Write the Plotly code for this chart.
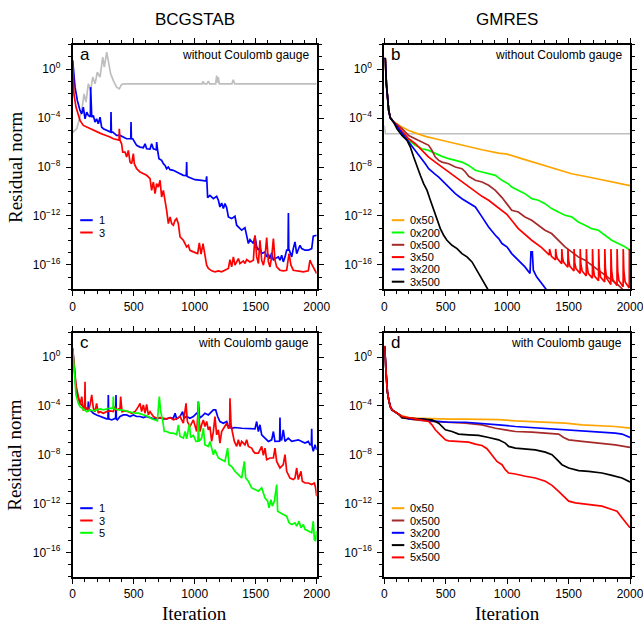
import numpy as np
import plotly.graph_objects as go

# ---------------- data (log10 of residual norm vs iteration) ----------------
# Panel a: BCGSTAB, without Coulomb gauge
a_gray_it = [0, 5, 33, 74, 93, 109, 128, 147, 164, 183, 202, 224, 246, 259, 279, 295, 311, 333, 360, 382, 401, 420,
             1060, 1069, 1078, 1100, 1112, 1122, 1172, 1180, 1187, 1193, 1202, 1305, 1316, 1328, 2000]
a_gray_lg = [-5.0, -5.14, -4.87, -3.38, -2.02, -2.70, -1.20, -1.75, -0.65, -1.20, -0.25, -0.65, 0.98, 0.16, 1.39, 0.43,
             -0.38, -0.93, -1.47, -1.61, -1.25, -1.20,
             -1.20, -1.0, -1.20, -1.20, -0.98, -1.20, -1.20, -0.52, -1.1, -0.65, -1.20, -1.20, -0.87, -1.20, -1.20]

a_blue_it = [0, 19, 38, 60, 74, 87, 101, 115, 128, 145, 147, 150, 156, 169, 183, 196, 210, 224, 237, 251, 278, 306, 312,
             314, 317, 328, 360, 388, 415, 442, 470, 476, 478, 481, 492, 511, 524, 552, 579, 593, 606, 634, 647, 661,
             675, 686, 688, 691, 696, 707, 729, 743, 757, 770, 784, 798, 825, 852, 880, 907, 931, 934, 937, 948, 975,
             1002, 1057, 1093, 1098, 1106, 1125, 1153, 1180, 1194, 1207, 1221, 1235, 1248, 1262, 1276, 1303, 1330,
             1344, 1358, 1385, 1412, 1426, 1440, 1453, 1467, 1481, 1494, 1508, 1522, 1535, 1549, 1576, 1590, 1604,
             1617, 1631, 1645, 1658, 1686, 1699, 1713, 1726, 1740, 1754, 1765, 1768, 1771, 1776, 1795, 1808, 1822,
             1836, 1849, 1863, 1877, 1904, 1931, 1959, 1972, 2000]
a_blue_lg = [0.70, -1.47, -2.56, -3.38, -3.65, -3.10, -4.06, -3.51, -3.78, -3.9, -1.47, -3.9, -3.92, -3.79, -4.33,
             -4.06, -4.47, -3.92, -4.74, -4.87, -5.01, -5.15, -5.15, -3.51, -5.15, -5.15, -5.42, -5.42, -5.55, -5.69,
             -5.69, -5.7, -4.33, -5.69, -5.69, -5.96, -6.23, -6.37, -6.42, -6.10, -6.51, -6.53, -6.10, -6.51, -6.59,
             -6.6, -5.96, -6.6, -6.64, -7.32, -7.46, -7.73, -7.87, -8.14, -8.00, -8.22, -8.27, -8.41, -8.55, -8.68,
             -8.7, -7.60, -8.75, -8.82, -8.96, -9.04, -9.09, -9.15, -8.76, -10.51, -10.32, -10.59, -10.40, -10.72,
             -11.27, -10.94, -11.40, -10.99, -11.32, -12.08, -12.22, -12.03, -12.76, -12.90, -13.17, -12.96, -13.72,
             -14.26, -13.93, -14.12, -14.26, -13.66, -14.53, -14.80, -14.59, -15.08, -14.94, -15.35, -15.13, -15.49,
             -15.02, -15.62, -15.49, -15.35, -15.62, -15.21, -15.76, -15.35, -14.80, -14.8, -11.76, -14.8, -14.80,
             -15.35, -14.67, -14.12, -15.08, -14.75, -14.40, -14.67, -14.80, -14.80, -14.67, -13.66, -13.58]

a_red_it = [0, 10, 27, 46, 60, 87, 115, 142, 169, 196, 224, 251, 278, 306, 333, 360, 380, 382, 385, 388, 401, 410, 429,
            442, 456, 470, 483, 497, 505, 524, 552, 579, 606, 634, 647, 661, 675, 688, 702, 716, 729, 743, 757, 770,
            784, 798, 811, 825, 839, 852, 866, 880, 907, 921, 934, 948, 961, 989, 1016, 1024, 1038, 1052, 1068, 1084,
            1098, 1112, 1139, 1166, 1194, 1221, 1248, 1276, 1289, 1303, 1317, 1330, 1358, 1371, 1399, 1412, 1426,
            1453, 1481, 1494, 1508, 1522, 1535, 1549, 1563, 1576, 1590, 1604, 1617, 1631, 1645, 1658, 1672, 1699,
            1726, 1754, 1773, 1789, 1808, 1849, 1890, 1931, 1945, 1959, 1981, 2000]
a_red_lg = [0.70, -2.02, -3.10, -3.78, -4.19, -4.60, -4.74, -4.87, -5.01, -5.15, -5.23, -5.34, -5.42, -5.55, -5.69,
            -5.77, -5.8, -4.87, -5.8, -5.83, -6.10, -6.78, -6.78, -7.19, -6.64, -7.60, -7.73, -6.91, -7.73, -8.14,
            -8.41, -8.55, -8.68, -8.96, -9.91, -9.23, -10.18, -9.36, -9.64, -9.09, -10.45, -9.91, -11.00, -11.54,
            -12.63, -12.08, -12.63, -12.76, -12.36, -12.22, -12.63, -13.72, -13.99, -14.26, -14.53, -14.40, -14.81,
            -14.94, -15.02, -15.08, -14.21, -15.13, -14.26, -15.35, -16.03, -16.30, -16.49, -16.57, -16.49, -16.57,
            -16.44, -16.30, -15.57, -16.17, -15.35, -16.03, -15.49, -15.89, -15.68, -15.89, -15.57, -15.76, -15.62,
            -13.58, -15.35, -15.89, -13.99, -15.62, -16.03, -15.35, -13.77, -15.76, -16.17, -15.35, -13.85, -15.62,
            -16.17, -16.44, -16.49, -16.44, -15.08, -16.03, -16.44, -16.52, -16.57, -16.49, -15.62, -15.95, -16.39,
            -16.71]

# Panel b: GMRES, without Coulomb gauge
b_gray_it = [0, 8, 2000]
b_gray_lg = [-4.6, -5.28, -5.28]

b_orange_it = [0, 8, 17, 27, 36, 49, 76, 103, 144, 198, 253, 334, 415, 524, 660, 795, 931, 1000, 1118, 1254, 1389,
               1525, 1661, 1796, 1900, 2000]
b_orange_lg = [0.9, 0.84, -1.20, -2.56, -3.38, -3.98, -4.33, -4.47, -4.74, -5.01, -5.23, -5.50, -5.69, -5.96, -6.29,
               -6.59, -6.86, -6.95, -7.32, -7.73, -8.14, -8.55, -8.82, -9.09, -9.3, -9.53]

b_green_it = [0, 8, 17, 27, 36, 49, 76, 103, 144, 198, 253, 307, 361, 415, 470, 524, 578, 632, 687, 741, 795, 849,
              904, 958, 1012, 1037, 1091, 1145, 1200, 1254, 1308, 1362, 1417, 1471, 1525, 1579, 1634, 1688, 1742,
              1796, 1851, 1905, 1959, 2000]
b_green_lg = [0.9, 0.84, -1.20, -2.56, -3.38, -3.98, -4.33, -4.60, -5.15, -5.83, -6.23, -6.51, -6.64, -6.91, -7.13,
              -7.32, -7.46, -7.60, -7.87, -8.27, -8.41, -8.55, -8.68, -9.09, -9.40, -9.64, -9.91, -10.18, -10.59,
              -10.72, -11.00, -11.40, -11.68, -11.95, -12.08, -12.49, -12.76, -13.04, -13.17, -13.58, -13.99, -14.26,
              -14.53, -14.81]

b_brown_it = [0, 8, 17, 27, 36, 49, 76, 103, 144, 198, 253, 307, 361, 388, 415, 443, 470, 524, 578, 632, 660, 687,
              741, 795, 849, 904, 958, 1012, 1037, 1091, 1145, 1200, 1254, 1308, 1362, 1417, 1471, 1525, 1579, 1634,
              1688, 1742, 1796, 1851, 1905, 1950]
b_brown_lg = [0.9, 0.84, -1.20, -2.56, -3.38, -3.98, -4.33, -4.52, -4.87, -5.42, -5.69, -5.96, -6.23, -6.64, -7.19,
              -7.46, -7.60, -7.73, -8.00, -8.14, -8.41, -8.76, -9.09, -9.23, -9.50, -9.91, -10.5, -11.2, -11.54,
              -11.68, -12.08, -12.36, -12.76, -13.17, -13.44, -13.99, -14.53, -14.94, -15.35, -15.62, -16.03, -16.44,
              -16.85, -17.25, -17.66, -18.1]

b_red_it = [0, 8, 17, 27, 36, 49, 76, 103, 144, 198, 253, 307, 361, 415, 470, 524, 578, 632, 687, 741, 795, 849, 904,
            958, 1000, 1091, 1200, 1281, 1344,
            1345, 1350, 1360, 1394, 1395, 1400, 1410, 1444, 1445, 1450, 1460, 1494, 1495, 1500, 1510, 1544,
            1545, 1550, 1560, 1594, 1595, 1600, 1610, 1644, 1645, 1650, 1660, 1694, 1695, 1700, 1710, 1744,
            1745, 1750, 1760, 1794, 1795, 1800, 1810, 1844, 1845, 1850, 1860, 1894, 1895, 1900, 1910, 1944,
            1945, 1950, 1960, 1994, 1995, 2000]
b_red_lg = [0.9, 0.84, -1.20, -2.56, -3.38, -3.98, -4.33, -4.60, -5.06, -5.69, -6.10, -6.64, -7.19, -7.60, -8.00,
            -8.41, -8.82, -9.23, -9.64, -10.04, -10.40, -10.72, -11.13, -11.54, -11.9, -13.04, -13.99, -14.59, -15.2,
            -14.7, -15.0, -15.3, -15.6, -14.7, -15.2, -15.5, -15.9, -14.7, -15.4, -15.8, -16.2, -14.7, -15.6, -16.1,
            -16.5, -14.7, -15.8, -16.3, -16.7, -14.7, -15.9, -16.5, -16.9, -14.7, -16.0, -16.7, -17.1, -14.7, -16.1,
            -16.9, -17.3, -14.7, -16.2, -17.0, -17.4, -14.7, -16.3, -17.1, -17.6, -14.7, -16.4, -17.2, -17.7, -14.7,
            -16.5, -17.3, -17.8, -14.7, -16.5, -17.4, -17.9, -14.7, -16.5]

b_blue_it = [0, 8, 17, 27, 36, 49, 76, 103, 144, 198, 226, 253, 280, 307, 334, 361, 388, 415, 443, 470, 524, 578, 632,
             687, 741, 795, 849, 904, 931, 958, 1000, 1037, 1091, 1145, 1186, 1194, 1205, 1213, 1240, 1281, 1322,
             1340]
b_blue_lg = [0.9, 0.84, -1.20, -2.56, -3.38, -3.98, -4.33, -4.74, -5.28, -5.96, -6.37, -6.64, -7.05, -7.32, -7.73,
             -8.14, -8.41, -8.60, -8.82, -9.09, -9.64, -10.18, -10.59, -10.94, -11.27, -12.08, -12.90, -13.58, -13.85,
             -14.26, -14.55, -15.08, -15.62, -16.17, -16.71, -14.94, -14.94, -16.44, -16.98, -17.53, -18.02, -18.3]

b_black_it = [0, 8, 17, 27, 36, 49, 76, 103, 144, 185, 212, 239, 266, 293, 320, 348, 375, 402, 429, 456, 483, 510,
              551, 592, 632, 673, 714, 755, 795, 836, 850, 860]
b_black_lg = [0.9, 0.84, -1.20, -2.56, -3.38, -3.98, -4.33, -4.87, -5.42, -5.83, -6.37, -7.19, -8.00, -8.68, -9.36,
              -9.91, -10.72, -11.54, -12.36, -13.04, -13.58, -13.99, -14.40, -14.67, -15.08, -15.35, -15.76, -16.44,
              -17.12, -17.80, -18.0, -18.3]

# Panel c: BCGSTAB, with Coulomb gauge
c_blue_it = [0, 11, 27, 46, 60, 87, 115, 125, 128, 131, 142, 169, 196, 224, 251, 278, 289, 292, 295, 320, 347, 352,
             355, 358, 366, 388, 415, 442, 470, 497, 524, 552, 579, 606, 634, 661, 688, 716, 743, 770, 798, 825, 839,
             852, 880, 901, 912, 934, 961, 989, 1016, 1027, 1030, 1040, 1057, 1084, 1112, 1139, 1153, 1172, 1188,
             1207, 1235, 1262, 1276, 1303, 1330, 1385, 1440, 1494, 1508, 1522, 1535, 1549, 1576, 1604, 1631, 1645,
             1658, 1686, 1696, 1699, 1702, 1713, 1726, 1740, 1767, 1795, 1822, 1849, 1877, 1904, 1931, 1945, 1956,
             1959, 1962, 1972, 1986, 2000]
c_blue_lg = [0.70, -0.93, -2.56, -3.38, -3.78, -4.06, -4.25, -4.3, -3.65, -4.3, -4.33, -4.60, -4.74, -4.87, -4.96,
             -5.06, -5.06, -3.10, -5.06, -5.15, -5.01, -5.0, -3.10, -5.1, -5.15, -4.87, -4.74, -4.74, -4.87, -4.74,
             -4.87, -4.87, -4.96, -4.87, -4.96, -5.06, -5.06, -4.96, -5.06, -5.06, -4.96, -5.01, -4.60, -5.06, -4.87,
             -4.47, -5.01, -4.87, -5.01, -4.87, -4.60, -4.7, -3.65, -5.0, -4.87, -4.60, -4.74, -4.47, -4.33, -4.33,
             -4.87, -5.28, -5.42, -5.28, -5.69, -5.83, -5.77, -5.83, -5.83, -5.88, -5.28, -6.10, -5.55, -6.37, -6.64,
             -6.91, -6.78, -6.10, -6.91, -6.91, -6.9, -4.96, -6.8, -6.78, -5.96, -6.91, -6.64, -6.91, -6.86, -6.78,
             -6.91, -7.05, -6.91, -7.19, -7.2, -5.88, -7.3, -7.73, -7.19, -7.60]

c_red_it = [0, 11, 27, 46, 60, 74, 87, 98, 101, 104, 115, 128, 142, 156, 169, 183, 196, 210, 224, 251, 278, 306, 333,
            347, 360, 388, 393, 404, 429, 456, 483, 511, 538, 552, 565, 579, 593, 606, 620, 634, 661, 688, 716, 743,
            770, 798, 825, 852, 880, 907, 929, 940, 961, 989, 1016, 1030, 1043, 1057, 1071, 1084, 1098, 1112, 1125,
            1139, 1153, 1166, 1180, 1194, 1207, 1221, 1243, 1262, 1276, 1286, 1289, 1292, 1298, 1308, 1325, 1344,
            1358, 1371, 1385, 1412, 1426, 1440, 1467, 1481, 1494, 1522, 1549, 1563, 1576, 1590, 1617, 1645, 1658,
            1672, 1699, 1726, 1740, 1754, 1781, 1808, 1822, 1836, 1849, 1871, 1882, 1904, 1931, 1959, 1981, 1991,
            2000]
c_red_lg = [0.70, -0.66, -2.29, -3.24, -3.92, -3.24, -4.33, -4.3, -2.02, -4.3, -4.19, -4.47, -3.92, -3.10, -4.19,
            -4.47, -3.79, -4.60, -4.47, -4.60, -4.47, -4.41, -4.47, -4.06, -4.33, -4.19, -3.24, -4.47, -4.41, -4.47,
            -4.60, -4.47, -4.06, -3.79, -4.47, -3.92, -4.60, -3.87, -4.74, -4.47, -4.87, -5.01, -4.96, -5.01, -5.06,
            -4.96, -5.15, -5.06, -4.87, -5.42, -3.79, -5.28, -5.69, -5.15, -6.10, -4.19, -6.10, -5.55, -5.15, -5.69,
            -5.28, -5.96, -5.69, -6.91, -6.10, -4.87, -6.37, -5.96, -7.05, -6.10, -5.69, -5.42, -5.83, -5.8, -3.38,
            -5.5, -5.55, -6.10, -6.91, -7.32, -6.78, -7.32, -6.91, -7.19, -6.78, -7.32, -7.46, -7.73, -7.87, -7.87,
            -7.32, -8.06, -7.46, -8.41, -8.27, -8.27, -7.46, -8.55, -9.09, -8.82, -8.00, -9.36, -9.91, -10.04,
            -9.91, -9.09, -10.04, -9.36, -10.18, -10.32, -10.32, -10.45, -10.32, -10.72, -11.40]

c_green_it = [0, 11, 27, 46, 60, 87, 115, 142, 169, 196, 224, 251, 278, 306, 330, 333, 336, 347, 374, 401, 429, 456,
              483, 511, 538, 565, 593, 620, 647, 675, 694, 710, 721, 737, 751, 770, 798, 825, 852, 866, 880, 907, 921,
              934, 956, 967, 989, 1011, 1027, 1030, 1035, 1057, 1071, 1084, 1112, 1125, 1153, 1166, 1194, 1221, 1248,
              1270, 1281, 1303, 1330, 1358, 1385, 1407, 1418, 1440, 1467, 1494, 1522, 1549, 1563, 1576, 1598, 1609,
              1625, 1636, 1653, 1672, 1680, 1699, 1726, 1754, 1773, 1795, 1822, 1836, 1855, 1871, 1890, 1904, 1931,
              1959, 1972, 1981, 1991, 2000]
c_green_lg = [0.70, -1.20, -3.10, -3.78, -4.06, -4.25, -4.47, -4.33, -4.41, -4.33, -4.25, -4.33, -4.25, -4.19, -4.2,
              -3.24, -4.2, -4.25, -4.33, -4.33, -4.41, -4.47, -4.52, -4.60, -4.60, -4.68, -4.74, -4.87, -5.06, -5.15,
              -5.23, -3.24, -4.47, -5.15, -6.10, -6.10, -6.23, -6.23, -6.37, -5.55, -6.51, -6.64, -6.10, -6.70, -5.50,
              -6.59, -6.42, -6.91, -6.9, -3.65, -6.91, -6.64, -5.83, -7.19, -7.32, -6.91, -8.00, -7.60, -8.27, -8.41,
              -8.55, -7.46, -8.82, -8.96, -9.36, -9.64, -9.91, -8.55, -9.91, -10.18, -10.72, -10.86, -10.99, -10.72,
              -11.27, -11.54, -11.81, -12.36, -11.68, -12.22, -11.81, -10.45, -12.63, -12.76, -12.90, -13.04, -13.58,
              -13.72, -13.58, -13.85, -13.45, -13.99, -13.72, -14.12, -14.26, -14.40, -13.45, -14.94, -15.08, -14.26]

# Panel d: GMRES, with Coulomb gauge
d_orange_it = [0, 3, 14, 25, 36, 49, 63, 90, 117, 144, 198, 253, 388, 524, 660, 795, 931, 1067, 1202, 1338, 1474,
               1609, 1745, 1880, 2000]
d_orange_lg = [0.9, 0.84, -1.20, -2.83, -3.51, -4.06, -4.33, -4.52, -4.68, -4.79, -4.96, -5.01, -5.06, -5.09, -5.09,
               -5.09, -5.12, -5.23, -5.28, -5.34, -5.42, -5.55, -5.61, -5.69, -5.83]

d_brown_it = [0, 3, 14, 25, 36, 49, 63, 90, 117, 144, 198, 253, 388, 524, 660, 795, 904, 985, 1067, 1202, 1338, 1419,
              1460, 1501, 1609, 1745, 1880, 2000]
d_brown_lg = [0.9, 0.84, -1.20, -2.83, -3.51, -4.06, -4.33, -4.52, -4.68, -4.96, -5.06, -5.15, -5.28, -5.34, -5.42,
              -5.55, -5.83, -5.96, -6.10, -6.15, -6.23, -6.31, -6.59, -6.78, -6.91, -7.05, -7.19, -7.40]

d_blue_it = [0, 3, 14, 25, 36, 49, 63, 90, 117, 144, 198, 307, 388, 524, 660, 795, 931, 1067, 1202, 1338, 1474, 1609,
             1745, 1880, 1935, 2000]
d_blue_lg = [0.9, 0.84, -1.20, -2.83, -3.51, -4.06, -4.33, -4.52, -4.68, -4.87, -5.06, -5.06, -5.23, -5.34, -5.34,
             -5.42, -5.55, -5.69, -5.77, -5.88, -5.96, -6.04, -6.15, -6.23, -6.31, -6.59]

d_black_it = [0, 3, 14, 25, 36, 49, 63, 90, 117, 144, 198, 307, 388, 443, 497, 551, 605, 687, 768, 849, 931, 985,
              1012, 1067, 1148, 1229, 1311, 1365, 1406, 1446, 1501, 1582, 1663, 1772, 1853, 1935, 2000]
d_black_lg = [0.9, 0.84, -1.20, -2.83, -3.51, -4.06, -4.33, -4.52, -4.68, -4.96, -5.01, -5.06, -5.15, -5.42, -5.96,
              -6.10, -6.31, -6.37, -6.42, -6.59, -6.78, -7.05, -7.32, -7.46, -7.51, -7.60, -7.79, -8.00, -8.41, -8.82,
              -9.09, -9.31, -9.36, -9.50, -9.69, -9.91, -10.23]

d_red_it = [0, 3, 14, 25, 36, 49, 63, 90, 117, 144, 253, 307, 361, 388, 415, 456, 497, 524, 605, 687, 741, 795, 836,
            877, 917, 958, 985, 1012, 1067, 1148, 1229, 1311, 1365, 1419, 1474, 1501, 1555, 1663, 1772, 1853, 1894,
            1935, 1975, 2000]
d_red_lg = [0.9, 0.84, -1.20, -2.83, -3.51, -4.06, -4.33, -4.52, -4.68, -4.87, -5.06, -5.15, -5.28, -5.55, -5.96,
            -6.37, -6.78, -6.86, -6.91, -6.97, -7.13, -7.24, -7.51, -8.06, -8.55, -8.82, -9.23, -9.50, -9.58, -9.77,
            -9.91, -10.18, -10.51, -11.00, -11.54, -11.81, -11.95, -12.08, -12.22, -12.49, -12.63, -13.17, -13.72,
            -13.99]

col_titles = ["BCGSTAB", "GMRES"]
panel_letters = ["a", "b", "c", "d"]
panel_notes = ["without Coulomb gauge", "without Coulomb gauge", "with Coulomb gauge", "with Coulomb gauge"]
x_ticks = [0, 500, 1000, 1500, 2000]
y_tick_exps = [-16, -12, -8, -4, 0]

GRAY, BLUE, RED, GREEN = "#bebebe", "#0000ff", "#ff0000", "#00ff00"
ORANGE, BROWN, BLACK = "#ffa500", "#a52a2a", "#000000"

panels = [
    [(None, GRAY, a_gray_it, a_gray_lg), ("1", BLUE, a_blue_it, a_blue_lg), ("3", RED, a_red_it, a_red_lg)],
    [(None, GRAY, b_gray_it, b_gray_lg), ("0x50", ORANGE, b_orange_it, b_orange_lg),
     ("0x200", GREEN, b_green_it, b_green_lg), ("0x500", BROWN, b_brown_it, b_brown_lg),
     ("3x50", RED, b_red_it, b_red_lg), ("3x200", BLUE, b_blue_it, b_blue_lg),
     ("3x500", BLACK, b_black_it, b_black_lg)],
    [("1", BLUE, c_blue_it, c_blue_lg), ("3", RED, c_red_it, c_red_lg), ("5", GREEN, c_green_it, c_green_lg)],
    [("0x50", ORANGE, d_orange_it, d_orange_lg), ("0x500", BROWN, d_brown_it, d_brown_lg),
     ("3x200", BLUE, d_blue_it, d_blue_lg), ("3x500", BLACK, d_black_it, d_black_lg),
     ("5x500", RED, d_red_it, d_red_lg)],
]

# ---------------- layout geometry (pixels) ----------------
W, H = 643, 625
def px(x):
    return x / W
def py(y):
    return 1 - y / H

X_LEFT = (72.7, 316.7)
X_RIGHT = (384.3, 630.0)
Y_TOP = (44.7, 289.3)
Y_BOT = (332.7, 576.7)
boxes = [(X_LEFT, Y_TOP), (X_RIGHT, Y_TOP), (X_LEFT, Y_BOT), (X_RIGHT, Y_BOT)]

SANS = "Liberation Sans, Arial, Helvetica, sans-serif"
SERIF = "Liberation Serif, Times New Roman, Times, serif"

fig = go.Figure()
layout = dict(
    width=W, height=H, margin=dict(l=0, r=0, t=0, b=0, autoexpand=False),
    paper_bgcolor="white", plot_bgcolor="white", showlegend=False,
    font=dict(family=SANS, color="black"),
)

shapes, annotations = [], []
for i, (series, ((x0, x1), (y0, y1))) in enumerate(zip(panels, boxes)):
    n = "" if i == 0 else str(i + 1)
    xa, ya = "x" + n, "y" + n
    for name, color, its, lg in series:
        fig.add_trace(go.Scatter(
            x=its, y=np.power(10.0, np.array(lg)), mode="lines", name=name or "",
            line=dict(color=color, width=1.7), xaxis=xa, yaxis=ya, hoverinfo="skip"))
    layout["xaxis" + n] = dict(
        domain=[px(x0), px(x1)], anchor=ya, range=[0, 2000], automargin=False, ticklabeloverflow="allow",
        tickmode="array", tickvals=x_ticks, ticktext=[str(v) for v in x_ticks],
        ticks="outside", ticklen=5, tickwidth=1, tickcolor="black",
        minor=dict(tickmode="linear", tick0=0, dtick=100, ticks="outside", ticklen=3, tickwidth=1,
                   tickcolor="black", showgrid=False),
        showline=True, linewidth=2, linecolor="black", mirror="allticks",
        showgrid=False, zeroline=False, tickfont=dict(family=SANS, size=12, color="black"))
    layout["yaxis" + n] = dict(
        domain=[py(y1), py(y0)], anchor=xa, type="log", range=[-18, 2], automargin=False,
        ticklabeloverflow="allow",
        tickmode="array", tickvals=[10.0 ** e for e in y_tick_exps],
        ticktext=["10<sup>" + ("\u2212" + str(-e) if e < 0 else "0") + "</sup>" for e in y_tick_exps],
        ticks="outside", ticklen=5, tickwidth=1, tickcolor="black", ticklabelstandoff=3,
        minor=dict(tickmode="array", tickvals=[10.0 ** e for e in range(-18, 3)], ticks="outside",
                   ticklen=3, tickwidth=1, tickcolor="black", showgrid=False),
        showline=True, linewidth=2, linecolor="black", mirror="allticks",
        showgrid=False, zeroline=False, tickfont=dict(family=SANS, size=12, color="black"))

    # panel letter and note
    annotations.append(dict(x=px(x0 + 5), y=py(y0 + 10), xref="paper", yref="paper", text=panel_letters[i],
                            showarrow=False, xanchor="left", yanchor="middle",
                            font=dict(family=SANS, size=17, color="black")))
    annotations.append(dict(x=px(x1 - 6), y=py(y0 + 10), xref="paper", yref="paper", text=panel_notes[i],
                            showarrow=False, xanchor="right", yanchor="middle",
                            font=dict(family=SANS, size=12, color="black")))

    # hand-drawn legend in lower-left corner
    entries = [(nm, c) for nm, c, _, _ in series if nm]
    row0 = y0 + 175.5
    for k, (nm, c) in enumerate(entries):
        yy = row0 + k * 12.3
        shapes.append(dict(type="line", xref="paper", yref="paper", x0=px(x0 + 7.5), x1=px(x0 + 20),
                           y0=py(yy), y1=py(yy), line=dict(color=c, width=2)))
        annotations.append(dict(x=px(x0 + 24), y=py(yy), xref="paper", yref="paper", text=nm, showarrow=False,
                                xanchor="left", yanchor="middle", font=dict(family=SANS, size=11, color="black")))

# column titles
for t, (xs, _) in zip(col_titles, boxes[:2]):
    annotations.append(dict(x=px((xs[0] + xs[1]) / 2), y=py(19.5), xref="paper", yref="paper", text=t,
                            showarrow=False, xanchor="center", yanchor="middle",
                            font=dict(family=SANS, size=17, color="black")))
# axis titles
for (xs, ys) in [boxes[0], boxes[2]]:
    annotations.append(dict(x=px(15), y=py((ys[0] + ys[1]) / 2), xref="paper", yref="paper",
                            text="Residual norm", textangle=-90, showarrow=False,
                            xanchor="center", yanchor="middle", font=dict(family=SERIF, size=19, color="black")))
for (xs, ys) in [boxes[2], boxes[3]]:
    annotations.append(dict(x=px((xs[0] + xs[1]) / 2), y=py(613), xref="paper", yref="paper",
                            text="Iteration", showarrow=False, xanchor="center", yanchor="middle",
                            font=dict(family=SERIF, size=19, color="black")))

layout["shapes"] = shapes
layout["annotations"] = annotations
fig.update_layout(**layout)
fig.write_html("out.html")
